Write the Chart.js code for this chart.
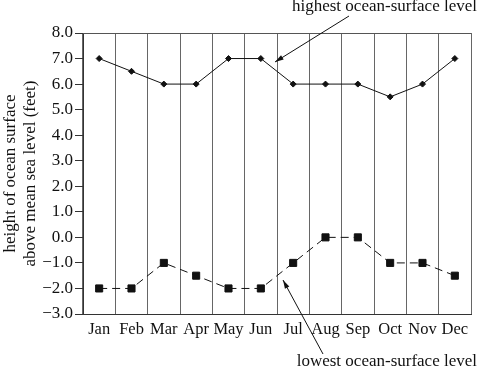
<!DOCTYPE html>
<html>
<head>
<meta charset="utf-8">
<script src="https://cdn.jsdelivr.net/npm/chart.js@4"></script>
<style>
  html, body { margin: 0; padding: 0; background: #fff; }
  #wrap { width: 477px; height: 369px; }
</style>
</head>
<body>
<div id="wrap"><canvas id="chart"></canvas></div>
<script>
const months = ['Jan', 'Feb', 'Mar', 'Apr', 'May', 'Jun', 'Jul', 'Aug', 'Sep', 'Oct', 'Nov', 'Dec'];
const highestLevel = [7, 6.5, 6, 6, 7, 7, 6, 6, 6, 5.5, 6, 7];
const lowestLevel = [-2, -2, -1, -1.5, -2, -2, -1, 0, 0, -1, -1, -1.5];
const yTitle = ['height of ocean surface', 'above mean sea level (feet)'];
const highLabel = 'highest ocean-surface level';
const lowLabel = 'lowest ocean-surface level';

const serif = '"Liberation Serif", "Times New Roman", serif';

function arrow(ctx, x1, y1, x2, y2) {
  // line from (x1,y1) to arrowhead at (x2,y2)
  const a = Math.atan2(y2 - y1, x2 - x1);
  ctx.beginPath();
  ctx.moveTo(x1, y1);
  ctx.lineTo(x2, y2);
  ctx.stroke();
  ctx.beginPath();
  ctx.moveTo(x2, y2);
  ctx.lineTo(x2 - 9 * Math.cos(a - 0.28), y2 - 9 * Math.sin(a - 0.28));
  ctx.lineTo(x2 - 9 * Math.cos(a + 0.28), y2 - 9 * Math.sin(a + 0.28));
  ctx.closePath();
  ctx.fill();
}

const notes = {
  id: 'notes',
  afterDraw(chart) {
    const ctx = chart.ctx;
    const area = chart.chartArea;
    ctx.save();
    // top border of the box
    ctx.strokeStyle = '#555';
    ctx.lineWidth = 1;
    ctx.beginPath();
    ctx.moveTo(area.left, area.top + 0.5);
    ctx.lineTo(area.right, area.top + 0.5);
    ctx.stroke();

    ctx.fillStyle = '#111';
    ctx.strokeStyle = '#111';
    ctx.font = '17px ' + serif;
    ctx.textAlign = 'right';
    ctx.textBaseline = 'middle';
    ctx.fillText(highLabel, 477, 7);
    ctx.fillText(lowLabel, 477, 362);
    arrow(ctx, 349, 16, 275, 62);
    arrow(ctx, 323, 354, 283, 280);
    ctx.restore();
  }
};

new Chart(document.getElementById('chart'), {
  type: 'line',
  data: {
    labels: months,
    datasets: [{
      label: highLabel,
      data: highestLevel,
      borderColor: '#111',
      backgroundColor: '#111',
      borderWidth: 1,
      pointStyle: 'rectRot',
      pointRadius: 3,
      tension: 0
    }, {
      label: lowLabel,
      data: lowestLevel,
      borderColor: '#111',
      backgroundColor: '#111',
      borderWidth: 1,
      borderDash: [8, 5],
      pointStyle: 'rect',
      pointRadius: 5,
      tension: 0
    }]
  },
  options: {
    responsive: true,
    maintainAspectRatio: false,
    animation: false,
    layout: { padding: { top: 33, left: 0, right: 0, bottom: 0 } },
    plugins: {
      legend: { display: false },
      tooltip: { enabled: false }
    },
    scales: {
      x: {
        offset: true,
        afterFit: s => { s.height = 55; },
        grid: {
          offset: true,
          color: '#666',
          lineWidth: 1,
          drawTicks: false
        },
        border: { color: '#333' },
        ticks: {
          color: '#111',
          padding: 6,
          autoSkip: false,
          maxRotation: 0,
          font: { family: serif, size: 16.5 }
        }
      },
      y: {
        min: -3,
        max: 8,
        afterFit: s => { s.width = 83; },
        grid: {
          drawOnChartArea: false,
          drawTicks: true,
          tickLength: 8,
          color: '#333'
        },
        border: { color: '#333' },
        ticks: {
          stepSize: 1,
          color: '#111',
          padding: 2,
          font: { family: serif, size: 17 },
          callback: v => v.toFixed(1).replace('-', '\u2212')
        },
        title: {
          display: true,
          text: yTitle,
          color: '#111',
          padding: { top: 0, bottom: 0 },
          font: { family: serif, size: 17, lineHeight: 1.2 }
        }
      }
    }
  },
  plugins: [notes]
});
</script>
</body>
</html>
